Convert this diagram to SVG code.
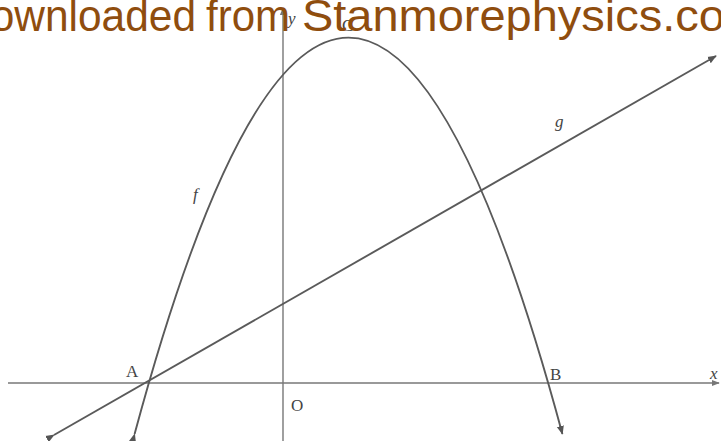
<svg xmlns="http://www.w3.org/2000/svg" width="721" height="441" viewBox="0 0 721 441">
  <style>
    .axis { stroke: #777; stroke-width: 1.4; fill: none; }
    .curve { stroke: #5a5a5a; stroke-width: 1.9; fill: none; }
    .lbl { font-family: "Liberation Serif", serif; font-size: 17px; fill: #444; }
    .it { font-style: italic; }
    .hdr { font-family: "Liberation Sans", Arial, sans-serif; font-size: 45px; fill: #8f4d0e; }
  </style>
  <defs>
    <marker id="arr" viewBox="0 0 10 10" refX="9" refY="5" markerWidth="9" markerHeight="9" markerUnits="userSpaceOnUse" orient="auto">
      <path d="M0,1 L10,5 L0,9 Z" fill="#555"/>
    </marker>
    <marker id="arrA" viewBox="0 0 10 10" refX="9" refY="5" markerWidth="8" markerHeight="8" markerUnits="userSpaceOnUse" orient="auto">
      <path d="M0,1 L10,5 L0,9 Z" fill="#777"/>
    </marker>
  </defs>
  <rect width="721" height="441" fill="#ffffff"/>

  <g id="axes">
    <line class="axis" x1="8" y1="383" x2="719" y2="383" marker-end="url(#arrA)"/>
    <line class="axis" x1="283" y1="441" x2="283" y2="8" marker-end="url(#arrA)"/>
  </g>

  <g id="connectors">
    <path id="f-curve" class="curve" d="M134.6,434 Q348.5,-358.7 562.4,434" marker-start="url(#arr)" marker-end="url(#arr)"/>
    <line id="g-line" class="curve" x1="54" y1="435" x2="716" y2="56" marker-start="url(#arr)" marker-end="url(#arr)"/>
  </g>

  <g id="labels">
    <text class="lbl" x="126" y="377">A</text>
    <text class="lbl" x="550" y="380">B</text>
    <text class="lbl" x="291" y="411">O</text>
    <text class="lbl" x="342" y="31">C</text>
    <text class="lbl it" x="193" y="200">f</text>
    <text class="lbl it" x="555" y="127">g</text>
    <text class="lbl it" x="288" y="24" font-size="14">y</text>
    <text class="lbl it" x="710" y="379" font-size="14">x</text>
  </g>

  <g id="header">
    <text class="hdr" x="-40" y="31" textLength="236" lengthAdjust="spacingAndGlyphs">Downloaded</text>
    <text class="hdr" x="206" y="31" textLength="84" lengthAdjust="spacingAndGlyphs">from</text>
    <text class="hdr" x="302" y="31" textLength="462" lengthAdjust="spacingAndGlyphs">Stanmorephysics.com</text>
  </g>
</svg>
